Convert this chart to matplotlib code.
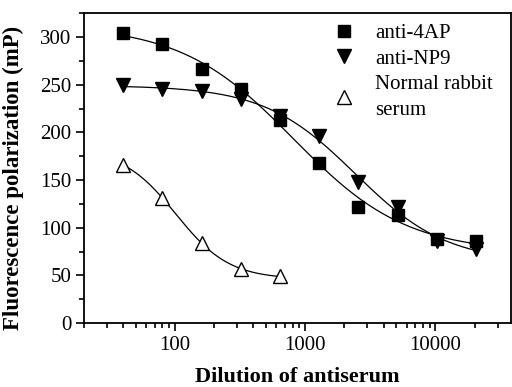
import numpy as np
import matplotlib
matplotlib.use("Agg")
from matplotlib import pyplot as plt
from matplotlib.ticker import MultipleLocator, LogLocator, NullFormatter

plt.rcParams['font.family'] = ['Liberation Serif', 'DejaVu Serif']

dilution = [40, 80, 160, 320, 640, 1280, 2560, 5120, 10240, 20480]
anti_4ap = [304, 293, 266, 245, 213, 168, 122, 113, 88, 86]
anti_np9 = [250, 245, 243, 235, 217, 196, 148, 122, 86, 78]
nrs_dilution = [40, 80, 160, 320, 640]
nrs = [166, 131, 84, 57, 49]


def fit_logistic(x, y):
  # y = A2 + (A1 - A2) / (1 + (x/x0)^p), grid over x0, p; linear in A1, A2
  x = np.asarray(x, float)
  y = np.asarray(y, float)
  best = None
  for lx0 in np.linspace(np.log10(x.min()), np.log10(x.max()), 200):
    for p in np.linspace(0.5, 4, 120):
      f = 1 / (1 + (x / 10**lx0) ** p)
      A = np.column_stack([f, 1 - f])
      coef, res, *_ = np.linalg.lstsq(A, y, rcond=None)
      err = np.sum((A @ coef - y) ** 2)
      if best is None or err < best[0]:
        best = (err, lx0, p, coef)
  _, lx0, p, (a1, a2) = best
  return lambda xx: a2 + (a1 - a2) / (1 + (xx / 10**lx0) ** p)


fig = plt.figure(figsize=(5.12, 3.87), dpi=100)
ax = fig.add_axes([0.164, 0.165, 0.834, 0.801])

series = [
  (dilution, anti_4ap, dict(marker='s', color='k', markersize=8.5), 'anti-4AP'),
  (dilution, anti_np9, dict(marker='v', color='k', markersize=10), 'anti-NP9'),
  (nrs_dilution, nrs, dict(marker='^', color='k', markerfacecolor='white', markersize=10), 'Normal rabbit\nserum'),
]
for xs, ys, style, label in series:
  f = fit_logistic(xs, ys)
  xx = np.logspace(np.log10(xs[0]), np.log10(xs[-1]), 200)
  ax.plot(xx, f(xx), color='k', linewidth=0.9)
  ax.plot(xs, ys, linestyle='none', label=label, **style)

ax.set_xscale('log')
ax.set_xlim(20, 38000)
ax.set_ylim(0, 325)
ax.yaxis.set_major_locator(MultipleLocator(50))
ax.yaxis.set_minor_locator(MultipleLocator(25))
ax.xaxis.set_minor_locator(LogLocator(base=10, subs=np.arange(2, 10), numticks=10))
ax.xaxis.set_minor_formatter(NullFormatter())
ax.set_xticks([100, 1000, 10000])
ax.set_xticklabels(['100', '1000', '10000'])
ax.tick_params(which='both', direction='out', top=False, right=False, labelsize=15, width=1.2)
ax.tick_params(which='major', length=6, pad=3)
ax.tick_params(which='minor', length=3.5)
for s in ax.spines.values():
  s.set_linewidth(1.3)

ax.set_xlabel('Dilution of antiserum', fontsize=16, fontweight='bold', labelpad=9)
ax.set_ylabel('Fluorescence polarization (mP)', fontsize=16.5, fontweight='bold')
ax.yaxis.set_label_coords(-0.14, 0.47)

leg = ax.legend(loc='upper left', bbox_to_anchor=(325 / 512, 1 - 15 / 387),
                bbox_transform=fig.transFigure, frameon=False, fontsize=15,
                handletextpad=1.0, labelspacing=0.3, borderaxespad=0, handlelength=1.0)
leg.get_texts()[2].set_linespacing(1.5)

fig.savefig('out.png', dpi=100)
